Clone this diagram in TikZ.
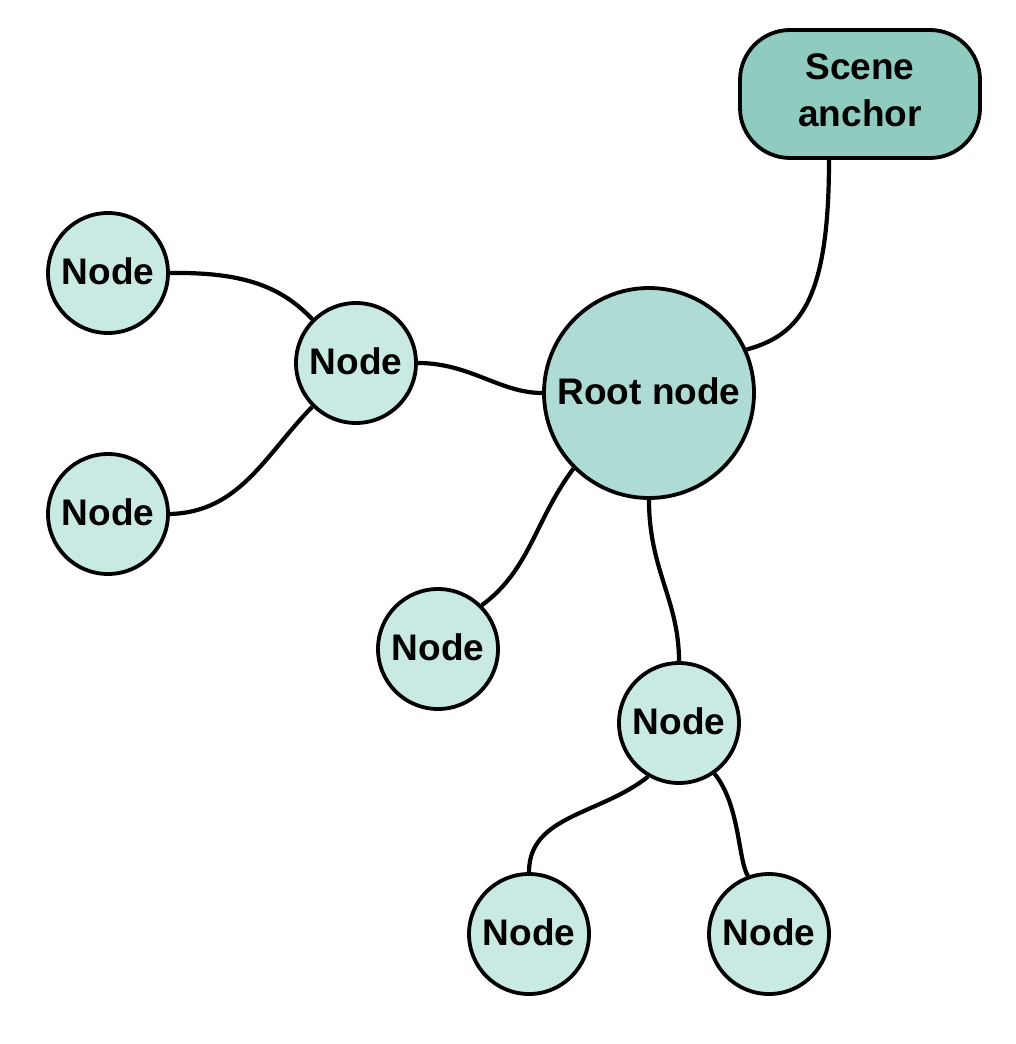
\documentclass[tikz,border=0pt]{standalone}
\usepackage{fontspec}
\setmainfont{Liberation Sans}
\begin{document}
\begin{tikzpicture}[x=1pt,y=-1pt,
  lbl/.style={font=\bfseries\fontsize{37}{47}\selectfont, text=black},
  small/.style={circle, draw=black, line width=3.8pt, fill=smallfill, minimum size=120pt, inner sep=0pt, lbl},
  root/.style={circle, draw=black, line width=3.8pt, fill=rootfill, minimum size=210pt, inner sep=0pt, lbl},
  anchorbox/.style={draw=black, line width=3.8pt, fill=anchorfill, rounded corners=50pt, minimum width=240pt, minimum height=128pt, inner sep=0pt, lbl},
  link/.style={draw=black, line width=4.2pt}
]
\definecolor{smallfill}{HTML}{C9E9E3}
\definecolor{rootfill}{HTML}{AEDBD4}
\definecolor{anchorfill}{HTML}{8FCBBE}
\useasboundingbox (0,0) rectangle (1016,1044);
\fill[white] (0,0) rectangle (1016,1044);

\node[anchorbox] (anchor) at (860,94) {\raisebox{5pt}{\begin{tabular}{@{}c@{}}Scene\\anchor\end{tabular}}};
\node[root] (root) at (649,393) {\raisebox{3pt}{Root node}};
\node[small] (a) at (108,273) {\raisebox{3pt}{Node}};
\node[small] (b) at (356,363) {\raisebox{3pt}{Node}};
\node[small] (c) at (108,514) {\raisebox{3pt}{Node}};
\node[small] (d) at (438,649) {\raisebox{3pt}{Node}};
\node[small] (e) at (679,723) {\raisebox{3pt}{Node}};
\node[small] (f) at (529,934) {\raisebox{3pt}{Node}};
\node[small] (g) at (769,934) {\raisebox{3pt}{Node}};

\draw[link] ([xshift=-31pt]anchor.south) .. controls (829,300) and (800,335) .. (root.24);
\draw[link] (a.east) .. controls (240,272) and (280,285) .. (b.135);
\draw[link] (c.east) .. controls (240,512) and (265,455) .. (b.225);
\draw[link] (b.east) .. controls (470,363) and (500,393) .. (root.west);
\draw[link] (root.225) .. controls (535,520) and (530,570) .. (d.45);
\draw[link] (root.south) .. controls (649,570) and (679,600) .. (e.north);
\draw[link] (e.240) .. controls (600,815) and (529,815) .. (f.north);
\draw[link] (e.305) .. controls (740,805) and (738,860) .. (g.110);
\end{tikzpicture}
\end{document}
